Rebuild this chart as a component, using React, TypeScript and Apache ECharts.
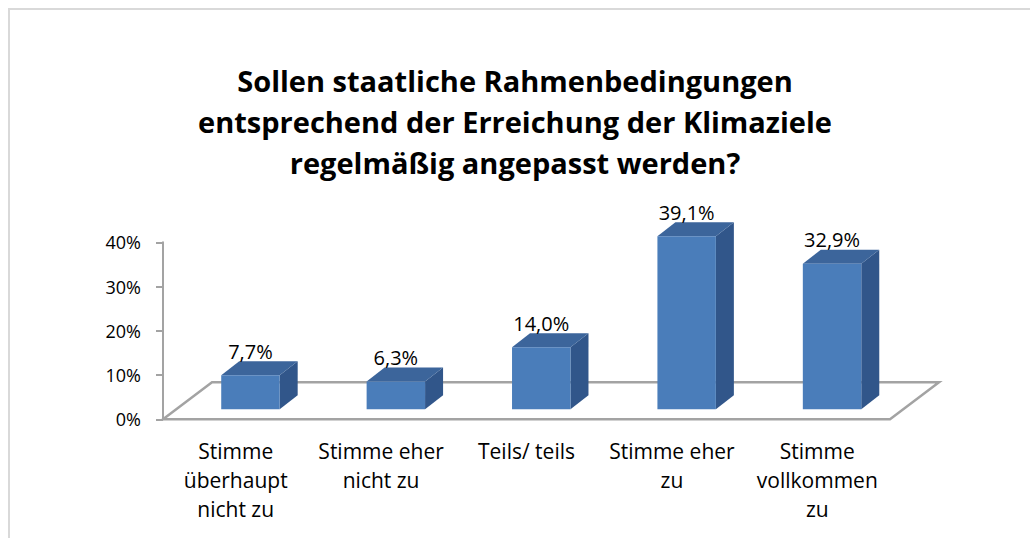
import React, { useEffect, useRef } from "react";
import * as echarts from "echarts";

const categories = [
  "Stimme\nüberhaupt\nnicht zu",
  "Stimme eher\nnicht zu",
  "Teils/ teils",
  "Stimme eher\nzu",
  "Stimme\nvollkommen\nzu",
];
const values = [7.7, 6.3, 14.0, 39.1, 32.9];
const yTicks = [0, 10, 20, 30, 40];
const titleLines = [
  "Sollen staatliche Rahmenbedingungen",
  "entsprechend der Erreichung der Klimaziele",
  "regelmäßig angepasst werden?",
];

const FONT = '"Open Sans", "Noto Sans", sans-serif';
const FRONT = "#4a7dba";
const TOP = "#3c659b";
const SIDE = "#31568a";
const AXIS = "#a3a3a3";

export default function App() {
  const ref = useRef<HTMLDivElement>(null);
  useEffect(() => {
    if (!ref.current) return;
    const chart = echarts.init(ref.current, undefined, { renderer: "svg" });
    const floorDx = 49, floorDy = -37;
    const shiftX = 14.75, shiftY = -10;
    const depthX = 18, depthY = -14;
    const fmt = (v: number) => v.toFixed(1).replace(".", ",") + "%";

    chart.setOption({
      animation: false,
      backgroundColor: "#ffffff",
      graphic: [
        {
          type: "rect",
          shape: { x: 9, y: 9, width: 1040, height: 560 },
          style: { fill: "none", stroke: "#d9d9d9", lineWidth: 2 },
          silent: true,
        },
        {
          type: "text",
          x: 515,
          y: 60,
          style: {
            text: titleLines.join("\n"),
            align: "center",
            verticalAlign: "top",
            fill: "#000",
            font: `bold 29px ${FONT}`,
            lineHeight: 41,
          },
          silent: true,
        },
      ],
      grid: { left: 163, right: 140, top: 242.3, bottom: 118.7 },
      xAxis: {
        type: "category",
        data: categories,
        axisLine: { show: false },
        axisTick: { show: false },
        axisLabel: {
          interval: 0,
          margin: 17,
          fontFamily: FONT,
          fontSize: 21,
          lineHeight: 29,
          color: "#000",
          align: "center",
        },
      },
      yAxis: {
        type: "value",
        min: yTicks[0],
        max: yTicks[yTicks.length - 1],
        interval: 10,
        axisLine: { show: true, lineStyle: { color: AXIS, width: 2 } },
        axisTick: { show: true, length: 7, lineStyle: { color: AXIS, width: 2 } },
        splitLine: { show: false },
        axisLabel: {
          margin: 22,
          fontFamily: FONT,
          fontSize: 18,
          color: "#000",
          formatter: (v: number) => v + "%",
        },
      },
      series: [
        {
          type: "custom",
          z: 1,
          clip: false,
          data: [[0, 0]],
          renderItem: (params: any) => {
            const cs = params.coordSys;
            const x = cs.x, w = cs.width, yb = cs.y + cs.height;
            return {
              type: "polygon",
              shape: {
                points: [
                  [x, yb],
                  [x + w, yb],
                  [x + w + floorDx, yb + floorDy],
                  [x + floorDx, yb + floorDy],
                ],
              },
              style: { fill: "#fff", stroke: AXIS, lineWidth: 2.5 },
            };
          },
        },
        {
          type: "custom",
          z: 2,
          clip: false,
          data: values.map((v, i) => [i, v]),
          renderItem: (params: any, api: any) => {
            const i = api.value(0);
            const v = api.value(1);
            const base = api.coord([i, 0]);
            const top = api.coord([i, v]);
            const cw = api.size([1, 0])[0];
            const bw = cw * 0.402;
            const cx = base[0] + shiftX;
            const x0 = cx - bw / 2, x1 = cx + bw / 2;
            const yb = base[1] + shiftY, yt = top[1] + shiftY;
            return {
              type: "group",
              children: [
                {
                  type: "polygon",
                  shape: {
                    points: [
                      [x1, yb],
                      [x1 + depthX, yb + depthY],
                      [x1 + depthX, yt + depthY],
                      [x1, yt],
                    ],
                  },
                  style: { fill: SIDE },
                },
                {
                  type: "polygon",
                  shape: {
                    points: [
                      [x0, yt],
                      [x1, yt],
                      [x1 + depthX, yt + depthY],
                      [x0 + depthX, yt + depthY],
                    ],
                  },
                  style: { fill: TOP },
                },
                {
                  type: "rect",
                  shape: { x: x0, y: yt, width: bw, height: yb - yt },
                  style: { fill: FRONT },
                },
                {
                  type: "text",
                  style: {
                    text: fmt(v),
                    x: cx,
                    y: yt - 24,
                    align: "center",
                    verticalAlign: "middle",
                    fill: "#000",
                    font: `20px ${FONT}`,
                  },
                },
              ],
            };
          },
        },
      ],
    });
    return () => chart.dispose();
  }, []);
  return (
    <div
      ref={ref}
      style={{ position: "absolute", left: 0, top: 0, width: 1030, height: 538 }}
    />
  );
}
